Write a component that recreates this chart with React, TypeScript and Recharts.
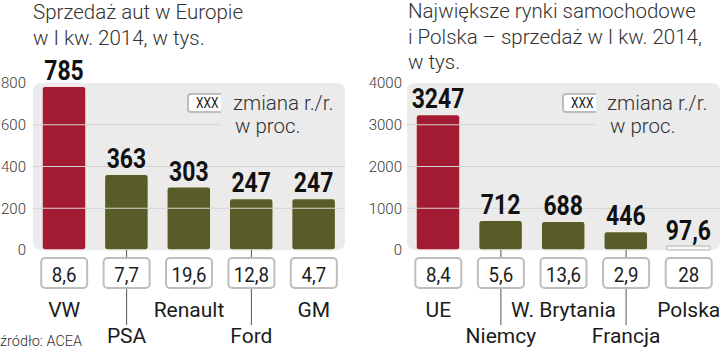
import React from 'react';
import { BarChart, Bar, XAxis, YAxis, Cell, ReferenceArea, ReferenceLine, LabelList } from 'recharts';

const leftCategories = ['VW', 'PSA', 'Renault', 'Ford', 'GM'];
const leftValues = [785, 363, 303, 247, 247];
const leftChanges = ['8,6', '7,7', '19,6', '12,8', '4,7'];
const leftTicks = [0, 200, 400, 600, 800];
const leftGrid = [200, 400, 600];

const rightCategories = ['UE', 'Niemcy', 'W. Brytania', 'Francja', 'Polska'];
const rightValues = [3247, 712, 688, 446, 97.6];
const rightChanges = ['8,4', '5,6', '13,6', '2,9', '28'];
const rightTicks = [0, 1000, 2000, 3000, 4000];
const rightGrid = [1000, 2000, 3000];

const RED = '#a31b32';
const OLIVE = '#585c29';
const PALE = '#f7f7f7';
const PLOT_BG = '#ebebeb';
const GRID = '#d4d4d4';
const TEXT = '#1c1c1c';

const leftColors = [RED, OLIVE, OLIVE, OLIVE, OLIVE];
const rightColors = [RED, OLIVE, OLIVE, OLIVE, PALE];

const SANS = "Roboto, 'Noto Sans', sans-serif";
const LIGHT = "'Roboto Light', Roboto, 'Noto Sans', sans-serif";

function makeTick(changes: string[]) {
  return (props: any) => {
    const { x, y, payload } = props;
    const i: number = payload?.index ?? props.index ?? 0;
    const base = y;
    const odd = i % 2 === 1;
    return (
      <g>
        {odd && <line x1={x} x2={x} y1={base} y2={base + 75} stroke="#555" strokeWidth={1} />}
        <rect x={x - 23} y={base + 8} width={46} height={30} rx={4} fill="#fff" stroke="#bdbdbd" strokeWidth={2} />
        <text
          transform={`translate(${x},${base + 32}) scale(0.89,1)`}
          x={0}
          y={0}
          textAnchor="middle"
          fontFamily={SANS}
          fontSize={21}
          fill={TEXT}
        >
          {changes[i]}
        </text>
        <text x={x} y={base + (odd ? 93 : 67)} textAnchor="middle" fontFamily={SANS} fontSize={21} fill={TEXT}>
          {payload.value}
        </text>
      </g>
    );
  };
}

const valueLabel = (props: any) => {
  const vb = props.viewBox || {};
  const x = props.x ?? vb.x;
  const y = props.y ?? vb.y;
  const width = props.width ?? vb.width;
  const value = props.value;
  return (
    <text
      transform={`translate(${x + width / 2},${y - 6}) scale(0.82,1)`}
      x={0}
      y={0}
      textAnchor="middle"
      fontFamily={SANS}
      fontWeight={700}
      fontSize={28}
      fill="#111"
    >
      {String(value).replace('.', ',')}
    </text>
  );
};

type PanelProps = {
  categories: string[];
  values: number[];
  changes: string[];
  colors: string[];
  ticks: number[];
  grid: number[];
  yAxisWidth: number;
  marginRight: number;
  tickMargin: number;
};

function Panel({ categories, values, changes, colors, ticks, grid, yAxisWidth, marginRight, tickMargin }: PanelProps) {
  const data = categories.map((c, i) => ({ name: c, value: values[i] }));
  const max = ticks[ticks.length - 1];
  return (
    <BarChart width={360} height={352} data={data} margin={{ top: 83, right: marginRight, bottom: 0, left: 0 }} barSize={44}>
      <ReferenceArea y1={0} y2={max} fill={PLOT_BG} fillOpacity={1} stroke="none" radius={8} ifOverflow="visible" />
      {grid.map((v) => (
        <ReferenceLine key={v} y={v} stroke={GRID} strokeWidth={1} />
      ))}
      <XAxis
        dataKey="name"
        axisLine={false}
        tickLine={false}
        tickSize={0}
        tickMargin={0}
        interval={0}
        height={102}
        tick={makeTick(changes)}
      />
      <YAxis
        domain={[0, max]}
        ticks={ticks}
        axisLine={false}
        tickLine={false}
        tickSize={0}
        tickMargin={tickMargin}
        width={yAxisWidth}
        interval={0}
        tick={{ fill: '#3a3a3a', fontSize: 15, fontFamily: LIGHT, fontWeight: 300 }}
      />
      <Bar dataKey="value" isAnimationActive={false} radius={3} stroke="#f1ebe3" strokeWidth={1.5}>
        {data.map((d, i) => (
          <Cell key={d.name} fill={colors[i]} stroke={colors[i] === PALE ? '#c8c8c8' : '#f1ebe3'} />
        ))}
        <LabelList dataKey="value" content={valueLabel} />
      </Bar>
    </BarChart>
  );
}

const titleStyle: React.CSSProperties = {
  position: 'absolute',
  fontFamily: LIGHT,
  fontWeight: 300,
  fontSize: 20.5,
  lineHeight: '26px',
  color: '#333',
  whiteSpace: 'nowrap',
};

const legendText: React.CSSProperties = {
  position: 'absolute',
  fontFamily: LIGHT,
  fontWeight: 300,
  fontSize: 20.5,
  lineHeight: '23px',
  color: '#333',
  background: PLOT_BG,
  whiteSpace: 'nowrap',
};

const legendBox: React.CSSProperties = {
  position: 'absolute',
  boxSizing: 'border-box',
  width: 40,
  height: 20,
  border: '2px solid #bdbdbd',
  borderRadius: 4,
  background: '#fff',
  fontFamily: SANS,
  fontSize: 14,
  lineHeight: '16px',
  textAlign: 'center',
  color: TEXT,
};

export default function App() {
  return (
    <div style={{ position: 'absolute', left: 0, top: 0, width: 720, height: 352, background: '#fff', overflow: 'hidden' }}>
      <div style={{ position: 'absolute', left: 0, top: 0 }}>
        <Panel
          categories={leftCategories}
          values={leftValues}
          changes={leftChanges}
          colors={leftColors}
          ticks={leftTicks}
          grid={leftGrid}
          yAxisWidth={33}
          marginRight={15}
          tickMargin={7}
        />
      </div>
      <div style={{ position: 'absolute', left: 360, top: 0 }}>
        <Panel
          categories={rightCategories}
          values={rightValues}
          changes={rightChanges}
          colors={rightColors}
          ticks={rightTicks}
          grid={rightGrid}
          yAxisWidth={47}
          marginRight={0}
          tickMargin={5}
        />
      </div>

      <div style={{ ...titleStyle, left: 33, top: -1 }}>
        Sprzedaż aut w Europie
        <br />w I kw. 2014, w tys.
      </div>
      <div style={{ ...titleStyle, left: 408, top: -1, lineHeight: '25.5px' }}>
        Największe rynki samochodowe
        <br />i Polska – sprzedaż w I kw. 2014,
        <br />w tys.
      </div>

      <div style={{ ...legendBox, left: 187, top: 93 }}>
        <span style={{ display: 'inline-block', transform: 'scaleX(0.85)' }}>XXX</span>
      </div>
      <div style={{ ...legendText, left: 221, top: 91.5, width: 124, paddingLeft: 12, boxSizing: 'border-box' }}>
        zmiana r./r.
        <br />
        <span style={{ paddingLeft: 2 }}>w proc.</span>
      </div>

      <div style={{ ...legendBox, left: 562, top: 93 }}>
        <span style={{ display: 'inline-block', transform: 'scaleX(0.85)' }}>XXX</span>
      </div>
      <div style={{ ...legendText, left: 596, top: 91.5, width: 124, paddingLeft: 11, boxSizing: 'border-box' }}>
        zmiana r./r.
        <br />
        <span style={{ paddingLeft: 3 }}>w proc.</span>
      </div>

      <div
        style={{
          position: 'absolute',
          left: 0,
          top: 333,
          fontFamily: LIGHT,
          fontWeight: 300,
          fontSize: 14.5,
          lineHeight: '17px',
          color: '#333',
          whiteSpace: 'nowrap',
        }}
      >
        źródło: ACEA
      </div>
    </div>
  );
}
